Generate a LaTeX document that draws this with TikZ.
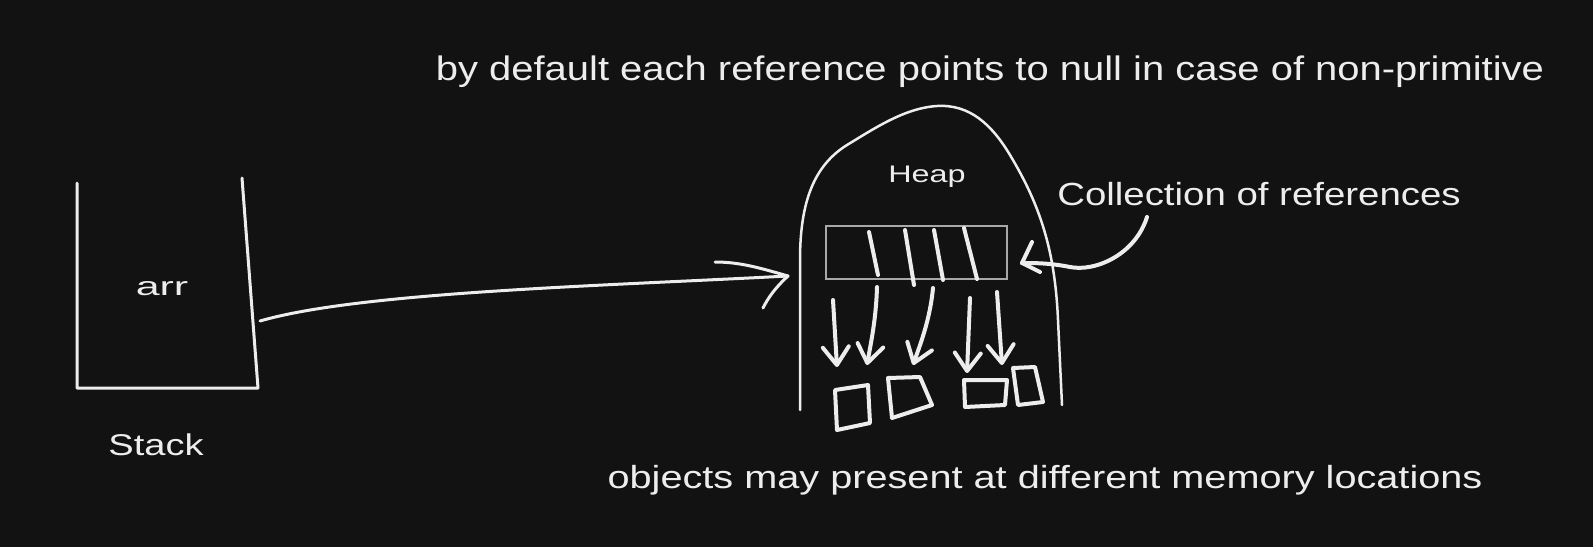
\documentclass[tikz,border=0pt]{standalone}
\usepackage{fontspec}
\setmainfont{Liberation Sans}
\usetikzlibrary{arrows.meta}
\definecolor{bg}{HTML}{121212}
\definecolor{ink}{HTML}{EDEDED}
\definecolor{frame}{HTML}{A8A8A8}
\begin{document}
\begin{tikzpicture}[x=1pt,y=-1pt,
  line/.style={draw=ink, line width=3pt, line cap=round, line join=round},
  thick line/.style={line, line width=4pt},
  txt/.style={text=ink, inner sep=0pt, anchor=base},
  barb/.style={-{Straight Barb[round,length=18pt,width=26pt]}}]
\fill[bg] (0,0) rectangle (1593,547);

% texts
\node[txt, font=\fontsize{34}{40}\selectfont] (toptext) at (990,80)
  {\scalebox{1.175}[1]{by default each reference points to null in case of non-primitive}};
\node[txt, font=\fontsize{32}{38}\selectfont] (colltext) at (1259,205)
  {\scalebox{1.2}[1]{Collection of references}};
\node[txt, font=\fontsize{32}{38}\selectfont] (objtext) at (1045,488)
  {\scalebox{1.24}[1]{objects may present at different memory locations}};
\node[txt, font=\fontsize{24}{28}\selectfont] (heaptext) at (927,182)
  {\scalebox{1.35}[1]{Heap}};
\node[txt, font=\fontsize{26}{30}\selectfont] (arrtext) at (162,295)
  {\scalebox{1.65}[1]{arr}};
\node[txt, font=\fontsize{30}{36}\selectfont] (stacktext) at (156,455)
  {\scalebox{1.27}[1]{Stack}};

% stack
\draw[line] (77,183) -- (77,388) -- (258,388) -- (242,178);

% heap outline
\draw[line, line width=2.5pt] (800,410) -- (800,260)
  .. controls (800,200) and (815,165) .. (847,145)
  .. controls (875,128) and (905,108) .. (937,106)
  .. controls (970,104) and (992,125) .. (1010,155)
  .. controls (1040,205) and (1055,250) .. (1058,320)
  -- (1062,405);

% collection of references
\node[draw=frame, line width=1.5pt, minimum width=181pt, minimum height=53pt, inner sep=0pt] (refs) at (916.5,252.5) {};
\draw[thick line] (869,232) -- (878,275);
\draw[thick line] (905,230) -- (914,285);
\draw[thick line] (934,230) -- (943,280);
\draw[thick line] (964,228) -- (977,279);

% objects
\draw[thick line] (835,390) -- (868,385) -- (870,423) -- (837,430) -- cycle;
\draw[thick line] (888,378) -- (920,377) -- (932,405) -- (892,418) -- cycle;
\draw[thick line] (964,380) -- (1007,380) -- (1005,405) -- (965,407) -- cycle;
\draw[thick line] (1013,368) -- (1035,367) -- (1043,402) -- (1018,405) -- cycle;

% arrows from references to objects
\draw[thick line, barb] (833,300) -- (837,367);
\draw[thick line, barb] (877,287) .. controls (876,320) and (871,342) .. (867,365);
\draw[thick line, barb] (933,288) .. controls (930,320) and (920,345) .. (913,365);
\draw[thick line, barb] (970,298) -- (967,373);
\draw[thick line, barb] (997,292) -- (1002,365);

% arrow from stack to heap
\coordinate (src) at (260,321);
\coordinate (tip) at (788,276);
\draw[line] (src) .. controls (360,292) and (600,286) .. (tip);
\draw[line] (tip) .. controls (760,268) and (740,262) .. (715,262);
\draw[line] (tip) .. controls (775,288) and (768,298) .. (763,308);

% arrow from label to collection
\coordinate (cstart) at (1147,217);
\coordinate (ctip) at (1022,263);
\draw[thick line] (cstart) .. controls (1135,255) and (1095,272) .. (1070,267)
  .. controls (1050,263) and (1035,263) .. (ctip);
\draw[thick line] (ctip) -- (1032,242);
\draw[thick line] (ctip) -- (1040,272);
\end{tikzpicture}
\end{document}
